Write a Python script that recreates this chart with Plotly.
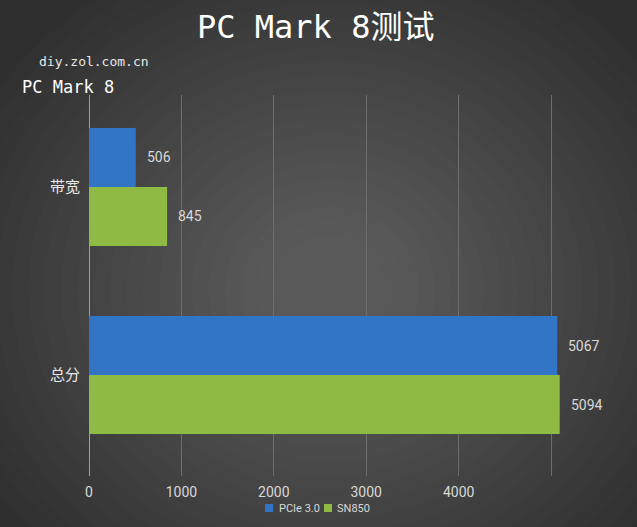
import plotly.graph_objects as go

categories = ["带宽", "总分"]
series_names = ["PCIe 3.0", "SN850"]
pcie_values = [506, 5067]
sn850_values = [845, 5094]
tick_values = [0, 1000, 2000, 3000, 4000, 5000]
tick_labels = ["0", "1000", "2000", "3000", "4000", ""]

colors = ["#3274c6", "#8fba44"]
label_color = "#d8d8d8"
num_font = "Liberation Sans Narrow, Roboto, Arial Narrow, sans-serif"
cjk_font = "DejaVu Sans Mono, Noto Sans CJK SC, monospace"

W, H = 637, 527
plot_left, plot_right, plot_top, plot_bottom = 89, 588, 95, 476
pw, ph = plot_right - plot_left, plot_bottom - plot_top


def px_x(x):
    return (x - plot_left) / pw


def px_y(y):
    return (plot_bottom - y) / ph


fig = go.Figure()
for name, vals, col in zip(series_names, [pcie_values, sn850_values], colors):
    fig.add_trace(go.Bar(
        y=categories, x=vals, name=name, orientation="h",
        marker=dict(color=col, line=dict(width=0)),
        hoverinfo="x+name",
    ))

annotations = []
for i, (name, vals) in enumerate(zip(series_names, [pcie_values, sn850_values])):
    shift = 29.5 if i == 0 else -29.5
    for c, v in zip(categories, vals):
        annotations.append(dict(
            x=v, y=c, text=str(v), showarrow=False, xanchor="left",
            xshift=9, yshift=shift,
            font=dict(family=num_font, size=14, color=label_color),
        ))

annotations += [
    dict(text="PC Mark 8测试", x=px_x(315), y=px_y(27), xref="paper", yref="paper",
         xanchor="center", yanchor="middle", showarrow=False,
         font=dict(family=cjk_font, size=32, color="#ffffff")),
    dict(text="diy.zol.com.cn", x=px_x(37), y=px_y(62), xref="paper", yref="paper",
         showarrow=False, xanchor="left", yanchor="middle",
         font=dict(family=cjk_font, size=13, color="#e8e8e8")),
    dict(text="PC Mark 8", x=px_x(20), y=px_y(87), xref="paper", yref="paper",
         showarrow=False, xanchor="left", yanchor="middle",
         font=dict(family=cjk_font, size=17, color="#ffffff")),
]

# soft radial background glow (styling only)
shapes = []
cx, cy = 330, 290
n = 22
for k in range(n):
    f = 1 - k / n
    rx, ry = 40 + 360 * f, 40 + 320 * f
    shapes.append(dict(
        type="circle", xref="paper", yref="paper", layer="below",
        x0=px_x(cx - rx), x1=px_x(cx + rx), y0=px_y(cy + ry), y1=px_y(cy - ry),
        fillcolor="rgba(255,255,255,0.011)", line=dict(width=0),
    ))

# compact legend (swatch + series name)
legend_sq_x = [265, 324]
legend_txt_x = [277, 335]
legend_y = 508
for name, col, sx, tx in zip(series_names, colors, legend_sq_x, legend_txt_x):
    shapes.append(dict(
        type="rect", xref="paper", yref="paper",
        x0=px_x(sx), x1=px_x(sx + 8), y0=px_y(legend_y + 4), y1=px_y(legend_y - 4),
        fillcolor=col, line=dict(width=0),
    ))
    annotations.append(dict(
        text=name, x=px_x(tx), y=px_y(legend_y), xref="paper", yref="paper",
        showarrow=False, xanchor="left", yanchor="middle",
        font=dict(family=num_font, size=11, color=label_color),
    ))

fig.update_layout(
    width=W, height=H,
    margin=dict(l=plot_left, r=W - plot_right, t=plot_top, b=H - plot_bottom,
                autoexpand=False),
    paper_bgcolor="#2f2f2f", plot_bgcolor="rgba(0,0,0,0)",
    barmode="group", bargap=0.372, bargroupgap=0,
    showlegend=False,
    xaxis=dict(range=[0, 5400], tickvals=tick_values, ticktext=tick_labels,
               showgrid=True, gridcolor="#6e6e6e", gridwidth=1,
               zeroline=True, zerolinecolor="#a0a0a0", zerolinewidth=1,
               showline=False, ticks="", ticklabelstandoff=6,
               tickfont=dict(family=num_font, size=14, color=label_color)),
    yaxis=dict(range=[1.537, -0.489], showgrid=False, zeroline=False,
               showline=False, ticks="", ticklabelstandoff=8,
               tickfont=dict(family=cjk_font, size=15, color="#e8e8e8")),
    annotations=annotations,
    shapes=shapes,
)

fig.write_html("out.html", config={"displayModeBar": False},
               post_script="document.body.style.margin='0';document.body.style.overflow='hidden';")
